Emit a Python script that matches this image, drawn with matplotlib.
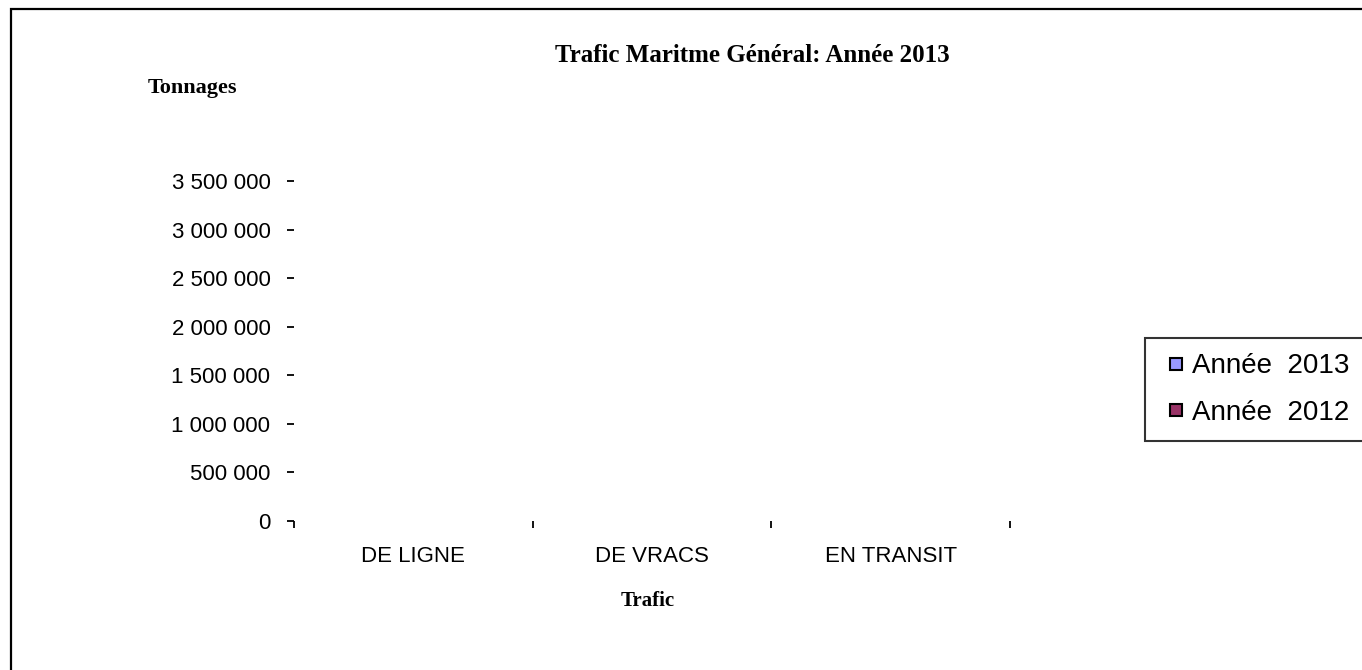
import matplotlib.pyplot as plt
import matplotlib as mpl
import numpy as np
from matplotlib.lines import Line2D
from matplotlib.patches import Rectangle
from matplotlib.ticker import FuncFormatter

mpl.rcParams.update({'font.family': 'Liberation Sans'})

# données (aucune barre visible sur le graphique d'origine)
categories = ['DE LIGNE', 'DE VRACS', 'EN TRANSIT']
series_names = ['Année  2013', 'Année  2012']
values_2013 = [0, 0, 0]
values_2012 = [0, 0, 0]
y_ticks = [0, 500000, 1000000, 1500000, 2000000, 2500000, 3000000, 3500000]
colors = ['#9999FF', '#993366']

fig = plt.figure(figsize=(13.62, 6.70), dpi=100)
ax = fig.add_axes([294 / 1362, 1 - 521 / 670, (1010 - 294) / 1362, (521 - 181) / 670])

x = np.arange(len(categories)) + 0.5
w = 0.3
ax.bar(x - w / 2, values_2013, width=w, color=colors[0], linewidth=0)
ax.bar(x + w / 2, values_2012, width=w, color=colors[1], linewidth=0)

ax.set_xlim(0, len(categories))
ax.set_ylim(0, 3500000)
for s in ax.spines.values():
    s.set_visible(False)

# axe Y
ax.set_yticks(y_ticks)
ax.yaxis.set_major_formatter(FuncFormatter(lambda v, p: f"{int(v):,}".replace(',', ' ')))
ax.tick_params(axis='y', direction='out', length=5, width=1.3, pad=12, labelsize=16)

# axe X : graduations entre les catégories, libellés au centre
ax.set_xticks(np.arange(len(categories) + 1))
ax.set_xticklabels([])
ax.set_xticks(x, minor=True)
ax.set_xticklabels(categories, minor=True)
ax.tick_params(axis='x', which='major', direction='out', length=5, width=1.3)
ax.tick_params(axis='x', which='minor', length=0, pad=18, labelsize=16)

fig.text(752 / 1362, 1 - 56 / 670, 'Trafic Maritme Général: Année 2013', family='Liberation Serif',
         fontweight='bold', fontsize=18, ha='center', va='center')
fig.text(148 / 1362, 1 - 88 / 670, 'Tonnages', family='Liberation Serif', fontweight='bold',
         fontsize=16, ha='left', va='center')
fig.text(648 / 1362, 1 - 601 / 670, 'Trafic', family='Liberation Serif', fontweight='bold',
         fontsize=15, ha='center', va='center')

handles = [Line2D([], [], marker='s', linestyle='none', markersize=8, markerfacecolor=c,
                  markeredgecolor='black', markeredgewidth=1.5) for c in colors]
leg = fig.legend(handles, series_names, loc='upper left', bbox_to_anchor=(1145 / 1362, 1 - 338 / 670),
                 fontsize=20, frameon=True, fancybox=False, borderaxespad=0, borderpad=0.55,
                 numpoints=1, handlelength=1.1, handletextpad=0.05, labelspacing=0.75)
leg.get_frame().set_edgecolor('black')
leg.get_frame().set_linewidth(1.5)

# cadre de la zone du graphique
fig.patches.append(Rectangle((11 / 1362, -0.1), 1.2, 1.1 - 9 / 670, transform=fig.transFigure,
                             fill=False, edgecolor='black', linewidth=1.6))

plt.savefig('out.png', dpi=100)
